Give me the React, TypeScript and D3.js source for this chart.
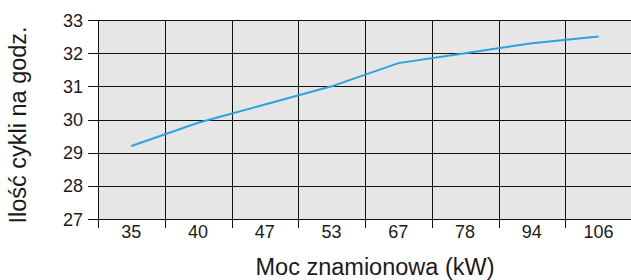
import React, { useEffect, useRef } from 'react';
import * as d3 from 'd3';

// power ratings (kW) on the x axis
const categories: string[] = ['35', '40', '47', '53', '67', '78', '94', '106'];
// cycles per hour
const cycles: number[] = [29.2, 29.9, 30.45, 31.0, 31.7, 32.0, 32.3, 32.5];
const yTicks: number[] = [27, 28, 29, 30, 31, 32, 33];

const W = 631;
const H = 280;

export default function App() {
  const ref = useRef<SVGSVGElement>(null);

  useEffect(() => {
    const svg = d3.select(ref.current);
    svg.selectAll('*').remove();

    const left = 98;
    const right = 632;
    const top = 20;
    const bottom = 219;
    const font = '"Liberation Sans", Arial, sans-serif';

    const x = d3.scaleBand<string>().domain(categories).range([left, right]);
    const y = d3.scaleLinear().domain([27, 33]).range([bottom, top]);

    // plot background
    svg.append('rect')
        .attr('x', left)
        .attr('y', top)
        .attr('width', right - left)
        .attr('height', bottom - top)
        .style('fill', '#e6e6e6');

    // horizontal grid + ticks
    svg.append('g')
        .selectAll('line')
        .data(yTicks)
        .enter()
        .append('line')
        .attr('x1', left - 10)
        .attr('x2', right)
        .attr('y1', (d) => Math.round(y(d)) + 0.5)
        .attr('y2', (d) => Math.round(y(d)) + 0.5)
        .style('stroke', '#111')
        .style('stroke-width', 1);

    // vertical grid at band boundaries
    const bounds = categories.map((c) => x(c) as number);
    svg.append('g')
        .selectAll('line')
        .data(bounds)
        .enter()
        .append('line')
        .attr('x1', (d) => Math.round(d) + 0.5)
        .attr('x2', (d) => Math.round(d) + 0.5)
        .attr('y1', top)
        .attr('y2', bottom + 9)
        .style('stroke', '#111')
        .style('stroke-width', 1);

    // y tick labels
    svg.append('g')
        .selectAll('text')
        .data(yTicks)
        .enter()
        .append('text')
        .attr('x', left - 15)
        .attr('y', (d) => y(d) + 6.5)
        .text((d) => d)
        .style('text-anchor', 'end')
        .style('font-size', '18px')
        .style('font-family', font)
        .style('fill', '#1a1a1a');

    // x tick labels
    svg.append('g')
        .selectAll('text')
        .data(categories)
        .enter()
        .append('text')
        .attr('x', (d) => (x(d) as number) + x.bandwidth() / 2)
        .attr('y', 238)
        .text((d) => d)
        .style('text-anchor', 'middle')
        .style('font-size', '18px')
        .style('font-family', font)
        .style('fill', '#1a1a1a');

    // data line
    const line = d3.line<number>()
        .x((d, i) => (x(categories[i]) as number) + x.bandwidth() / 2)
        .y((d) => y(d));
    svg.append('path')
        .datum(cycles)
        .attr('d', line)
        .style('fill', 'none')
        .style('stroke', '#2aa3df')
        .style('stroke-width', 2);

    // axis titles
    svg.append('text')
        .attr('x', 375)
        .attr('y', 275)
        .text('Moc znamionowa (kW)')
        .style('text-anchor', 'middle')
        .style('font-size', '23.5px')
        .style('font-family', font)
        .style('fill', '#1a1a1a');

    svg.append('text')
        .attr('transform', 'translate(26, 125) rotate(-90)')
        .text('Ilość cykli na godz.')
        .style('text-anchor', 'middle')
        .style('font-size', '23.5px')
        .style('font-family', font)
        .style('fill', '#1a1a1a');
  }, []);

  return (
    <svg
      ref={ref}
      width={W}
      height={H}
      style={{ position: 'absolute', left: 0, top: 0, background: '#fff' }}
    />
  );
}
